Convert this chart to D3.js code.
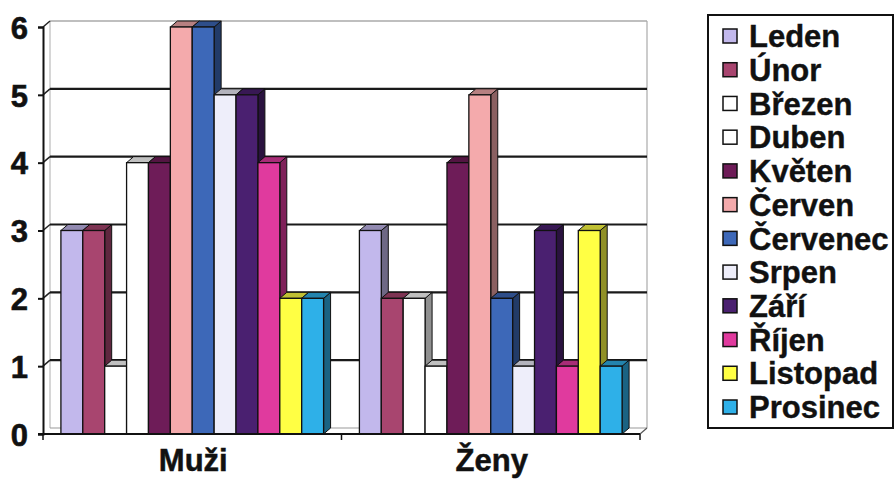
<!DOCTYPE html>
<html>
<head>
<meta charset="utf-8">
<script src="https://cdn.jsdelivr.net/npm/d3@7"></script>
<style>
  body { margin: 0; background: #fff; }
  svg { display: block; font-family: "Liberation Sans", Arial, sans-serif; font-weight: bold; }
</style>
</head>
<body>
<div id="chart"></div>
<script>
// Data
const groups = ['Muži', 'Ženy'];
const months = ['Leden', 'Únor', 'Březen', 'Duben', 'Květen', 'Červen',
                'Červenec', 'Srpen', 'Září', 'Říjen', 'Listopad', 'Prosinec'];
const muzi = [3, 3, 1, 4, 4, 6, 6, 5, 5, 4, 2, 2];
const zeny = [3, 2, 2, 1, 4, 5, 2, 1, 3, 1, 3, 1];
const monthColors = ['#c2b8ec', '#a8456f', '#ffffff', '#ffffff', '#6e1c58', '#f4aaac',
                     '#3d68b8', '#eeeefa', '#4a2070', '#e03a9e', '#ffff44', '#2eb0e8'];
const yTicks = [0, 1, 2, 3, 4, 5, 6];

const width = 894, height = 481;
const depthX = 7, depthY = -6;   // 3D offset
const plotLeft = 43, plotRight = 640, plotBottom = 434, plotTop = 27;

const svg = d3.select('#chart').append('svg')
    .attr('width', width)
    .attr('height', height);

// Scales
const y = d3.scaleLinear().domain([0, 6]).range([plotBottom, plotTop]);
const x0 = d3.scaleBand().domain(groups).range([plotLeft, plotRight])
    .paddingInner(0.12).paddingOuter(0.06);
const x1 = d3.scaleBand().domain(months).range([0, x0.bandwidth()]);

// Walls and gridlines
const wall = svg.append('g');
wall.append('line')
    .attr('x1', plotLeft + depthX).attr('x2', plotLeft + depthX)
    .attr('y1', y(6) + depthY).attr('y2', y(0) + depthY)
    .attr('stroke', '#bbb').attr('stroke-width', 1.2);
wall.append('line')
    .attr('x1', plotRight + depthX).attr('x2', plotRight + depthX)
    .attr('y1', y(6) + depthY).attr('y2', y(0) + depthY)
    .attr('stroke', '#bbb').attr('stroke-width', 1.5);
wall.append('line')
    .attr('x1', plotLeft + depthX).attr('x2', plotRight + depthX)
    .attr('y1', y(0) + depthY).attr('y2', y(0) + depthY)
    .attr('stroke', '#999').attr('stroke-width', 1);
wall.append('line')
    .attr('x1', plotRight).attr('x2', plotRight + depthX)
    .attr('y1', y(0)).attr('y2', y(0) + depthY)
    .attr('stroke', '#555').attr('stroke-width', 1.2);

wall.selectAll('.grid')
    .data(yTicks.filter(d => d > 0))
    .enter().append('line')
    .attr('class', 'grid')
    .attr('x1', plotLeft + depthX).attr('x2', plotRight + depthX)
    .attr('y1', d => y(d) + depthY).attr('y2', d => y(d) + depthY)
    .attr('stroke', d => d === 6 ? '#aaa' : '#1a1a1a')
    .attr('stroke-width', d => d === 6 ? 1.5 : 2.2);

wall.selectAll('.grid-side')
    .data(yTicks.filter(d => d > 0))
    .enter().append('line')
    .attr('class', 'grid-side')
    .attr('x1', plotLeft).attr('x2', plotLeft + depthX)
    .attr('y1', d => y(d)).attr('y2', d => y(d) + depthY)
    .attr('stroke', '#222').attr('stroke-width', 1.5);

// Bars
const rows = groups.map((g, gi) => ({
    group: g,
    values: months.map((m, i) => ({ month: m, value: gi === 0 ? muzi[i] : zeny[i], color: monthColors[i] }))
}));

rows.forEach(row => {
    const g = svg.append('g').attr('transform', `translate(${x0(row.group)},0)`);
    row.values.forEach(d => {
        const bx = x1(d.month);
        const bw = x1.bandwidth();
        const by = y(d.value);
        const base = y(0);
        const c = d3.color(d.color);
        // side face
        g.append('path')
            .attr('d', `M${bx + bw},${by} L${bx + bw + depthX},${by + depthY} L${bx + bw + depthX},${base + depthY} L${bx + bw},${base} Z`)
            .attr('fill', c.darker(1.6))
            .attr('stroke', '#111').attr('stroke-width', 1);
        // top face
        g.append('path')
            .attr('d', `M${bx},${by} L${bx + depthX},${by + depthY} L${bx + bw + depthX},${by + depthY} L${bx + bw},${by} Z`)
            .attr('fill', c.darker(0.8))
            .attr('stroke', '#111').attr('stroke-width', 1);
        // front face
        g.append('rect')
            .attr('x', bx).attr('y', by)
            .attr('width', bw).attr('height', base - by)
            .attr('fill', d.color)
            .attr('stroke', '#111').attr('stroke-width', 1.3);
    });
});

// Y axis
const yAxis = svg.append('g')
    .attr('transform', `translate(${plotLeft},0)`)
    .call(d3.axisLeft(y).tickValues(yTicks).tickSize(5).tickPadding(10).tickFormat(d3.format('d')));
yAxis.select('.domain').attr('stroke', '#111').attr('stroke-width', 2);
yAxis.selectAll('.tick line').attr('stroke', '#111').attr('stroke-width', 2);
yAxis.selectAll('.tick text')
    .style('font-size', '31px')
    .style('font-weight', 'bold')
    .attr('fill', '#111')
    .attr('stroke', '#111').attr('stroke-width', 0.6)
    .attr('dy', '0.36em');

// X axis
svg.append('line')
    .attr('x1', plotLeft - 5).attr('x2', plotRight)
    .attr('y1', y(0)).attr('y2', y(0))
    .attr('stroke', '#111').attr('stroke-width', 2);
const bounds = [plotLeft, x0(groups[1]) - x0.step() * x0.paddingInner() / 2, plotRight];
svg.selectAll('.xtick')
    .data(bounds)
    .enter().append('line')
    .attr('x1', d => d).attr('x2', d => d)
    .attr('y1', y(0)).attr('y2', y(0) + 6)
    .attr('stroke', '#111').attr('stroke-width', 1.5);
svg.selectAll('.xlabel')
    .data(groups)
    .enter().append('text')
    .attr('x', d => x0(d) + x0.bandwidth() / 2 + 1)
    .attr('y', 471)
    .attr('text-anchor', 'middle')
    .style('font-size', '31px')
    .attr('fill', '#111')
    .attr('stroke', '#111').attr('stroke-width', 0.5)
    .text(d => d);

// Legend
const legend = svg.append('g');
legend.append('rect')
    .attr('x', 708).attr('y', 15)
    .attr('width', 185).attr('height', 413)
    .attr('fill', '#fff')
    .attr('stroke', '#111').attr('stroke-width', 2);
const ly = d3.scalePoint().domain(months).range([36, 407]);
const item = legend.selectAll('.item')
    .data(months)
    .enter().append('g')
    .attr('class', 'item')
    .attr('transform', d => `translate(0,${ly(d)})`);
item.append('rect')
    .attr('x', 723).attr('y', -7)
    .attr('width', 14).attr('height', 14)
    .attr('fill', (d, i) => monthColors[i])
    .attr('stroke', '#111').attr('stroke-width', 1.5);
item.append('text')
    .attr('x', 749)
    .attr('dy', '0.36em')
    .style('font-size', '31px')
    .attr('fill', '#111')
    .attr('stroke', '#111').attr('stroke-width', 0.4)
    .text(d => d);
</script>
</body>
</html>
